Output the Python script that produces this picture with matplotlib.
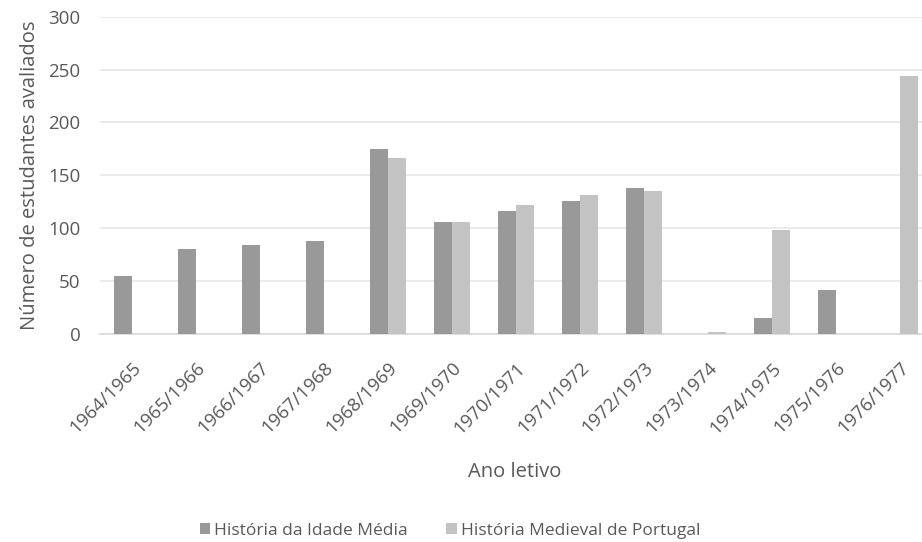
import matplotlib
matplotlib.use("Agg")
import matplotlib.pyplot as plt
import numpy as np

categories = ["1964/1965", "1965/1966", "1966/1967", "1967/1968", "1968/1969",
              "1969/1970", "1970/1971", "1971/1972", "1972/1973", "1973/1974",
              "1974/1975", "1975/1976", "1976/1977"]
idade_media = [55, 80, 84, 88, 175, 106, 116, 126, 138, 0, 15, 42, 0]
medieval_portugal = [0, 0, 0, 0, 166, 106, 122, 131, 135, 2, 98, 0, 244]
series_names = ["História da Idade Média", "História Medieval de Portugal"]
y_ticks = [0, 50, 100, 150, 200, 250, 300]

plt.rcParams['font.family'] = ['Open Sans', 'DejaVu Sans']
text_color = "#595959"

fig = plt.figure(figsize=(9.22, 5.42), dpi=100)
ax = fig.add_axes([100/922, 1-334/542, 822/922, (334-16.7)/542])

x = np.arange(len(categories))
w = 0.28
ax.bar(x - w/2, idade_media, w, color="#999999", label=series_names[0], zorder=3)
ax.bar(x + w/2, medieval_portugal, w, color="#c3c3c3", label=series_names[1], zorder=3)

ax.set_xlim(-0.5, 12.35)
ax.set_ylim(0, 300)
ax.set_yticks(y_ticks)
ax.set_yticklabels([str(v) for v in y_ticks], fontsize=13.5, color=text_color)
ax.yaxis.grid(True, color="#e8e8e8", linewidth=1.2, zorder=0)
ax.set_axisbelow(True)
ax.tick_params(axis='y', length=0, pad=14)
ax.tick_params(axis='x', length=0, pad=18)
ax.set_xticks(x)
ax.set_xticklabels(categories, rotation=45, ha='right', va='top',
                   rotation_mode='anchor', fontsize=13.5, color=text_color)
for s in ["top", "right", "left"]:
    ax.spines[s].set_visible(False)
ax.spines["bottom"].set_color("#d9d9d9")
ax.spines["bottom"].set_linewidth(1.2)

ax.set_ylabel("Número de estudantes avaliados", fontsize=14.5, color=text_color, labelpad=6)
fig.text(515/922, 1-472/542, "Ano letivo", ha='center', va='center', fontsize=14.5, color=text_color)

handles, labels = ax.get_legend_handles_labels()
fig.legend(handles, labels, loc='center', bbox_to_anchor=(450/922, 1-531/542), ncol=2,
           frameon=False, fontsize=12.5, labelcolor=text_color, handlelength=0.6,
           handleheight=0.6, handletextpad=0.25, columnspacing=2.2)

fig.savefig("out.png", dpi=100)
